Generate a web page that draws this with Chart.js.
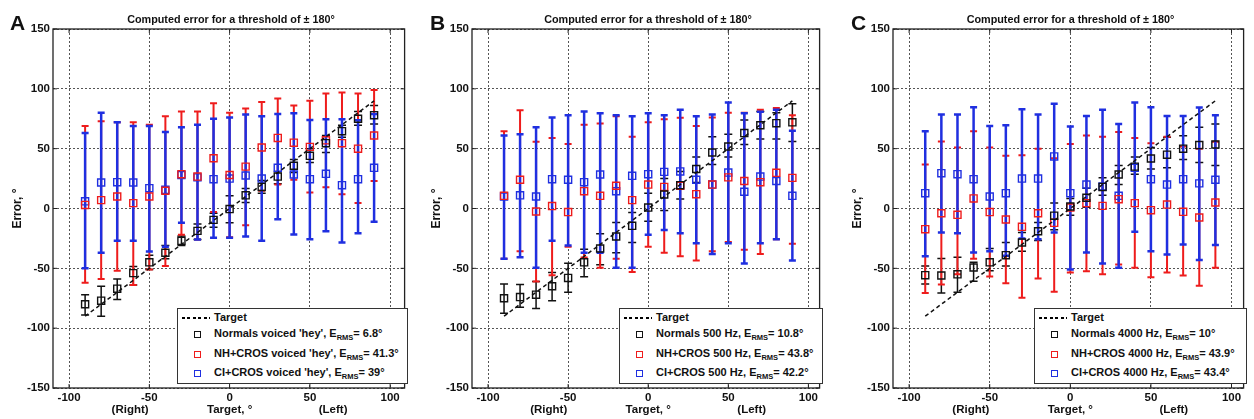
<!DOCTYPE html>
<html><head><meta charset="utf-8">
<script src="https://cdn.jsdelivr.net/npm/chart.js@4.4.1/dist/chart.umd.min.js"></script>
<style>
body{margin:0;background:#fff;width:1254px;height:419px;overflow:hidden;position:relative;font-family:'Liberation Sans',Arial,sans-serif;color:#111;}
.cv{position:absolute;top:0;}
.letter{position:absolute;font-weight:bold;font-size:21px;line-height:21px;}
.title{position:absolute;font-weight:bold;font-size:10.8px;line-height:12px;white-space:nowrap;transform:translateX(-50%);}
.legend{position:absolute;background:#fff;border:1px solid #333;box-sizing:border-box;font-weight:bold;font-size:11px;}
.legend .row{position:absolute;white-space:nowrap;line-height:12px;}
.legend sub{font-size:7.5px;vertical-align:-3px;line-height:0;}
.dash{position:absolute;height:1.6px;background:repeating-linear-gradient(to right,#000 0 3px,transparent 3px 5.5px);}
.mk{position:absolute;width:7px;height:7px;box-sizing:border-box;border:1.3px solid;}
</style>
</head><body>
<script>
// ---------- data ----------
const targets = [-90,-80,-70,-60,-50,-40,-30,-20,-10,0,10,20,30,40,50,60,70,80,90];
const targetLine = [-90, 90];
const xTickValues = [-100,-50,0,50,100];
const yTickValues = [-150,-100,-50,0,50,100,150];
const panelLetters = ['A','B','C'];
const panelTitle = 'Computed error for a threshold of \u00b1 180\u00b0';
const yTitle = 'Error, \u00b0';
const xTitleParts = ['(Right)', 'Target, \u00b0', '(Left)'];
const targetLabel = 'Target';

// Panel A: voiced 'hey'
const aNormMean = [-80,-77,-67,-54,-45,-37,-27,-18.7,-9.5,-0.5,11,18,26.7,35.7,44,54.6,64.6,75,78];
const aNormLo   = [-89,-90,-76,-64,-51,-42,-31,-26,-15.6,-12,5,12.8,20.6,30,38.4,46.8,59.6,69.6,70.7];
const aNormHi   = [-72,-65,-59,-48.5,-39,-31,-23,-13,-4,10.6,16.7,23.4,31,41,50,61,69.6,81,86];
const aNHMean = [3,7,10,4.5,10,14.8,28.7,26.7,42,28,35,51,59,55,51.5,57,54.6,50,61];
const aNHLo   = [-62,-59,-52,-64,-51,-48,-22,-26,-3,-24,-14,14.8,20,24,13.4,17.8,12,4.5,23];
const aNHHi   = [69,73,72,72,70,77,81,81,88,80,83.6,89,92,86,90,96,97,96,99];
const aCIMean = [6,21.7,22,21.7,17,15.6,28,26,24.5,25,27.6,25,34,28.4,24.5,29,19.5,24.5,34];
const aCILo   = [-50,-37,-27,-27,-36,-32,-12,-26,-24.5,-24.5,-23.4,-27,-9,-21.7,-25.6,-19,-28.4,-20.6,-11];
const aCIHi   = [63,80,72,69,69,64,68,70,75,76,78.5,77,79,79.7,74,74.6,74.6,73.8,79];
const aLabels = ["Normals voiced 'hey'", "NH+CROS voiced 'hey'", "CI+CROS voiced 'hey'"];
const aErms = ['6.8','41.3','39'];

// Panel B: 500 Hz
const bNormMean = [-75,-74,-72,-65,-58,-45,-33.4,-23.4,-14.5,0.8,11.7,19.5,33,46.8,51.8,63,69.6,71.3,72];
const bNormLo   = [-87.5,-82.5,-83.6,-77,-70,-57,-47,-37,-28.4,-10.6,-1.7,8,21.7,36.8,43,53.5,58,58,56];
const bNormHi   = [-63,-63.5,-61,-53.5,-45.7,-34,-21,-11.7,-3.3,12.8,25,31,43,60,62,74,81,80,87.5];
const bNHMean = [10.6,24,-2.5,2,-3,14.5,10.6,19,7,20,18,19,12,20,26,23,22,29.8,25.6];
const bNHLo   = [-42,-35.7,-61,-55.7,-32,-41,-49.6,-42,-53,-32,-37,-40,-43.5,-35.7,-28,-34.5,-38,-25.6,-29.5];
const bNHHi   = [64.6,82,55.7,59,54,70,71,77,60,72,74.6,75.8,69,76,80,80,82.5,84,78];
const bCIMean = [10,11,10,24.5,24,22,28.4,14.5,27.3,28.7,30.6,31,24,20,30,14,26.7,23,10.6];
const bCILo   = [-42,-40.7,-49.6,-27,-31,-37,-37,-49.6,-49.6,-22,-18,-20.6,-29,-38,-29,-46,-29,-25.6,-43.5];
const bCIHi   = [61,62,68,76,78,81,79.7,78,77,79.7,78,82.5,77,78.5,88.6,79.7,80.8,82.5,65];
const bLabels = ['Normals 500 Hz','NH+CROS 500 Hz','CI+CROS 500 Hz'];
const bErms = ['10.8','43.8','42.2'];

// Panel C: 4000 Hz
const cNormMean = [-55.7,-56,-55,-49.3,-45,-39,-28.4,-19,-6,1.7,9,18,28.4,35,41.8,45,50,53,53.5];
const cNormLo   = [-63,-70.7,-70,-60.7,-52,-48,-35.7,-26.7,-17.8,-5.6,1,11,20,28.7,33,34,41,38.4,36];
const cNormHi   = [-48,-41.8,-40.7,-45,-33.4,-28.4,-20,-11.7,4.5,8.4,17,25.6,36,43,51,59.6,60.7,68,70.7];
const cNHMean = [-17.3,-4,-5.3,8.4,-3,-9.2,-15.3,-4,-12,0.8,4.5,2.2,7.8,4.5,-1.4,3.3,-2.8,-7.5,5];
const cNHLo   = [-70.7,-63.5,-55,-42,-56.8,-62.4,-74.6,-58.5,-69.6,-53.5,-52.4,-55,-46.8,-49.6,-57.4,-53.5,-56,-64.6,-49.6];
const cNHHi   = [36.8,56,51,64.6,51,44,44.6,50,42,54,61,60,64,59,54.6,60,51.8,50,55.7];
const cCIMean = [12.8,29.5,28.7,24.5,10,12.8,25,25,43.5,12.8,20,18.4,10.6,34,24.5,20,24.5,21,24];
const cCILo   = [-40,-20,-20.6,-36.8,-35.7,-39.5,-25,-25.6,-20,-51,-36.8,-46,-49.6,-19.5,-35.7,-38.4,-30,-43,-30.6];
const cCIHi   = [64.6,78.5,78.5,84.7,69,69.6,83,78.5,87.5,68.5,77.4,82.5,70.7,88.6,84.7,77.4,77.4,84.4,78];
const cLabels = ['Normals 4000 Hz','NH+CROS 4000 Hz','CI+CROS 4000 Hz'];
const cErms = ['10','43.9','43.4'];

// ---------- layout / style ----------
const FONT = "'Liberation Sans', Arial, sans-serif";
const seriesColors = ['#111111','#ee1c1c','#1f2fe0'];
const barWidths = [1.5, 2, 2.5];
const capHalf = [4, 3.5, 3.5];

const panels = [
  {letter:panelLetters[0], left:0,   width:411, xMin:-110, xMax:109,
   series:[[aNormMean,aNormLo,aNormHi],[aNHMean,aNHLo,aNHHi],[aCIMean,aCILo,aCIHi]],
   labels:aLabels, erms:aErms, letterX:10, legend:{left:177, top:308, width:231, height:76}},
  {letter:panelLetters[1], left:419, width:407, xMin:-110, xMax:107,
   series:[[bNormMean,bNormLo,bNormHi],[bNHMean,bNHLo,bNHHi],[bCIMean,bCILo,bCIHi]],
   labels:bLabels, erms:bErms, letterX:430, legend:{left:619, top:308, width:204, height:76}},
  {letter:panelLetters[2], left:840, width:410, xMin:-110, xMax:107.5,
   series:[[cNormMean,cNormLo,cNormHi],[cNHMean,cNHLo,cNHHi],[cCIMean,cCILo,cCIHi]],
   labels:cLabels, erms:cErms, letterX:851, legend:{left:1034, top:308, width:213, height:76}}
];

// ---------- plugins ----------
const framePlugin = {
  id:'frame',
  beforeDatasetsDraw(chart){
    const {ctx, chartArea:a, scales:{x,y}} = chart;
    ctx.save();
    ctx.strokeStyle = '#222'; ctx.lineWidth = 1.3;
    ctx.strokeRect(a.left, a.top, a.right-a.left, a.bottom-a.top);
    ctx.lineWidth = 1;
    ctx.beginPath();
    x.ticks.forEach(t=>{ const px = x.getPixelForValue(t.value);
      ctx.moveTo(px,a.bottom); ctx.lineTo(px,a.bottom-4); ctx.moveTo(px,a.top); ctx.lineTo(px,a.top+4); });
    y.ticks.forEach(t=>{ const py = y.getPixelForValue(t.value);
      ctx.moveTo(a.left,py); ctx.lineTo(a.left+4,py); ctx.moveTo(a.right,py); ctx.lineTo(a.right-4,py); });
    ctx.stroke();
    ctx.restore();
  }
};
const errorBarPlugin = {
  id:'errorBars',
  beforeDatasetsDraw(chart){
    const {ctx, scales:{x,y}} = chart;
    chart.data.datasets.forEach(ds=>{
      if(!ds.errLo) return;
      ctx.save();
      ctx.strokeStyle = ds.errColor; ctx.lineWidth = ds.errWidth;
      ds.data.forEach((p,j)=>{
        const px = x.getPixelForValue(p.x);
        const yl = y.getPixelForValue(ds.errLo[j]), yh = y.getPixelForValue(ds.errHi[j]);
        ctx.beginPath();
        ctx.moveTo(px,yl); ctx.lineTo(px,yh);
        ctx.moveTo(px-ds.capHalf,yl); ctx.lineTo(px+ds.capHalf,yl);
        ctx.moveTo(px-ds.capHalf,yh); ctx.lineTo(px+ds.capHalf,yh);
        ctx.stroke();
      });
      ctx.restore();
    });
  }
};
const xTitlePlugin = {
  id:'xTitle',
  afterDraw(chart){
    const {ctx, scales:{x}} = chart;
    const c = x.getPixelForValue(0);
    ctx.save();
    ctx.font = 'bold 11.5px ' + FONT;
    ctx.fillStyle = '#111'; ctx.textAlign = 'center'; ctx.textBaseline = 'middle';
    ctx.fillText(xTitleParts[0], c - 99.5, 410);
    ctx.fillText(xTitleParts[1], c, 410);
    ctx.fillText(xTitleParts[2], c + 103.5, 410);
    ctx.restore();
  }
};

// ---------- build ----------
panels.forEach(p=>{
  const cv = document.createElement('canvas');
  cv.className = 'cv';
  cv.style.left = p.left + 'px';
  cv.width = p.width; cv.height = 419;
  cv.style.width = p.width + 'px'; cv.style.height = '419px';
  document.body.appendChild(cv);

  const datasets = [{
    type:'scatter', label:targetLabel, showLine:true,
    data: targetLine.map(v=>({x:v, y:v})),
    borderColor:'#111', borderWidth:1.5, borderDash:[4,3], pointRadius:0, fill:false
  }];
  p.series.forEach((s,k)=>{
    datasets.push({
      type:'scatter', label:p.labels[k],
      data: targets.map((t,j)=>({x:t, y:s[0][j]})),
      errLo: s[1], errHi: s[2], errColor: seriesColors[k], errWidth: barWidths[k], capHalf: capHalf[k],
      pointStyle:'rect', pointRadius:5, pointBorderWidth:1.4,
      pointBorderColor: seriesColors[k], pointBackgroundColor:'rgba(0,0,0,0)', showLine:false
    });
  });

  new Chart(cv, {
    type:'scatter',
    data:{datasets},
    options:{
      responsive:false, animation:false, devicePixelRatio:1,
      layout:{padding:{left:0, right:2, top:29, bottom:0}},
      plugins:{legend:{display:false}, tooltip:{enabled:false}, title:{display:false}},
      scales:{
        x:{type:'linear', min:p.xMin, max:p.xMax,
          afterBuildTicks:(sc)=>{ sc.ticks = xTickValues.map(v=>({value:v})); },
          afterFit:(sc)=>{ sc.height = 31; },
          ticks:{font:{family:FONT, size:11.5, weight:'bold'}, color:'#111', padding:3, maxRotation:0, autoSkip:false},
          grid:{color:'#555', lineWidth:1, drawTicks:false},
          border:{display:false, dash:[2,2]}
        },
        y:{type:'linear', min:-150, max:150,
          afterBuildTicks:(sc)=>{ sc.ticks = yTickValues.map(v=>({value:v})); },
          afterFit:(sc)=>{ sc.width = 53; },
          ticks:{font:{family:FONT, size:11.5, weight:'bold'}, color:'#111', padding:3},
          grid:{color:'#555', lineWidth:1, drawTicks:false},
          border:{display:false, dash:[2,2]},
          title:{display:true, text:yTitle, font:{family:FONT, size:12, weight:'bold'}, color:'#111', padding:{top:10, bottom:0}}
        }
      }
    },
    plugins:[framePlugin, errorBarPlugin, xTitlePlugin]
  });

  // panel letter and title
  const L = document.createElement('div');
  L.className = 'letter'; L.textContent = p.letter;
  L.style.left = p.letterX + 'px'; L.style.top = '12px';
  document.body.appendChild(L);
  const T = document.createElement('div');
  T.className = 'title'; T.textContent = panelTitle;
  const areaLeft = p.left + 53, areaRight = p.left + p.width - 2;
  T.style.left = ((areaLeft + areaRight)/2) + 'px'; T.style.top = '13px';
  document.body.appendChild(T);

  // legend
  const g = p.legend;
  const box = document.createElement('div');
  box.className = 'legend';
  Object.assign(box.style, {left:g.left+'px', top:g.top+'px', width:g.width+'px', height:g.height+'px'});
  const rowY = [9, 25, 45, 64];
  const d = document.createElement('div'); d.className='dash';
  Object.assign(d.style,{left:'4px', top:(rowY[0]-1)+'px', width:'28px'});
  box.appendChild(d);
  const r0 = document.createElement('div'); r0.className='row';
  r0.textContent = targetLabel;
  Object.assign(r0.style,{left:'36px', top:(rowY[0]-7)+'px'});
  box.appendChild(r0);
  p.labels.forEach((lab,k)=>{
    const m = document.createElement('div'); m.className='mk';
    Object.assign(m.style,{left:'16px', top:(rowY[k+1]-3.5)+'px', borderColor:seriesColors[k]});
    box.appendChild(m);
    const r = document.createElement('div'); r.className='row';
    r.innerHTML = lab.replace(/&/g,'&amp;') + ', E<sub>RMS</sub>= ' + p.erms[k] + '\u00b0';
    Object.assign(r.style,{left:'36px', top:(rowY[k+1]-7)+'px'});
    box.appendChild(r);
  });
  document.body.appendChild(box);
});
</script>
</body></html>
